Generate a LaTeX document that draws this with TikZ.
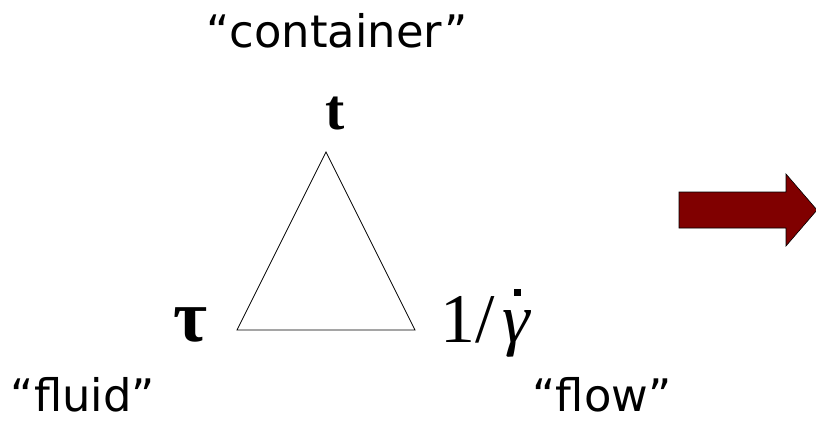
\documentclass[tikz,border=0pt]{standalone}
\usepackage{fontspec}
\setmainfont{DejaVu Sans}
\newfontfamily\serifface{Liberation Serif}
\usepackage{xcolor}
\usepackage{tikz}
\usetikzlibrary{positioning}
\usetikzlibrary{calc}
\definecolor{maroonred}{RGB}{128,0,0}

\begin{document}
\begin{tikzpicture}[
    x=1bp, y=1bp,
    % text styles
    role/.style={inner sep=0pt, anchor=base, font=\fontsize{45}{50}\selectfont},
    vert/.style={inner sep=0pt, anchor=base, font=\serifface\bfseries\fontsize{58}{60}\selectfont},
    rate/.style={inner sep=0pt, anchor=base west, font=\serifface\fontsize{70}{72}\selectfont},
    side/.style={draw, line width=0.8bp},
    bigarrow/.style={draw=black, line width=0.6bp, fill=maroonred},
]
\useasboundingbox (0,0) rectangle (816,422);

% =========================================================
% Triangle with its three corners
% =========================================================
\coordinate (apex)  at (326,270);
\coordinate (left)  at (237,92);
\coordinate (right) at (415,92);

\draw[side] (apex) -- (left) -- (right) -- cycle;

% corner labels
\node[vert] (tL)   at (335,293) {t};
\node[vert, font=\serifface\bfseries\fontsize{74}{76}\selectfont] (tauL) at (190,81) {τ};
\node[rate] (gL)   at (440,80)
    {1/\kern0.12em\ooalign{\textit{γ}\cr\hidewidth\raisebox{0.66em}{\rule{0.1em}{0.1em}}\hidewidth\cr}};

% role labels
\node[role] (container) at (337,375) {“container”};
\node[role] (fluid)     at (83,11)   {“fluid”};
\node[role] (flow)      at (602,11)  {“flow”};

% =========================================================
% Arrow on the right
% =========================================================
\draw[bigarrow] (679,230) -- (786,230) -- (786,248) -- (817,212)
    -- (786,176) -- (786,194) -- (679,194) -- cycle;

\end{tikzpicture}
\end{document}
